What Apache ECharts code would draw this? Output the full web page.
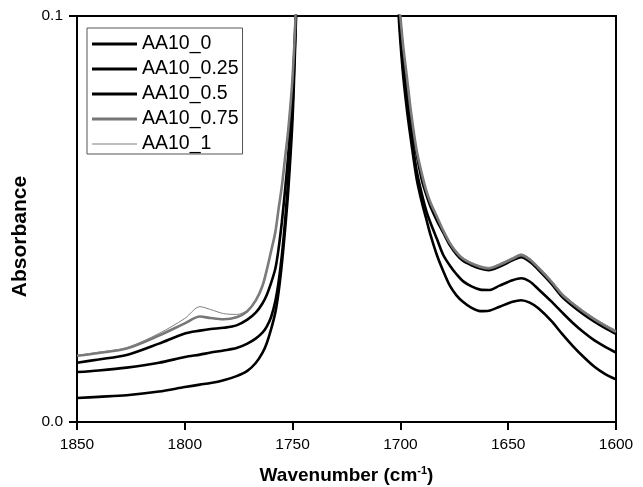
<!DOCTYPE html>
<html>
<head>
<meta charset="utf-8">
<script src="https://cdn.jsdelivr.net/npm/echarts@6/dist/echarts.min.js"></script>
<style>
html,body{margin:0;padding:0;background:#fff;}
#chart{width:643px;height:487px;}
</style>
</head>
<body>
<div id="chart"></div>
<script>
// Wavenumber grid (cm^-1)
const wavenumber = [1850, 1840, 1827, 1812, 1800, 1793, 1788, 1782, 1776, 1771, 1767, 1764, 1762, 1760, 1758, 1756.5, 1755, 1753.5, 1752, 1750, 1748.5, 1746, 1740, 1725, 1710, 1703, 1701, 1699, 1697, 1695, 1692.5, 1690, 1688, 1686, 1683, 1680, 1677, 1674, 1671, 1667, 1663, 1659, 1654, 1648, 1644, 1640, 1636, 1630, 1625, 1620, 1615, 1610, 1605, 1600];

const seriesNames = ['AA10_0', 'AA10_0.25', 'AA10_0.5', 'AA10_0.75', 'AA10_1'];

const aa10_0 = [0.0059, 0.0062, 0.0066, 0.0075, 0.0086, 0.0092, 0.0096, 0.0103, 0.0113, 0.0126, 0.0146, 0.0170, 0.0194, 0.0228, 0.0270, 0.0320, 0.0388, 0.0473, 0.0571, 0.075, 0.098, 0.14, 0.30, 0.60, 0.30, 0.13, 0.102, 0.087, 0.077, 0.069, 0.060, 0.054, 0.050, 0.046, 0.041, 0.037, 0.0335, 0.0312, 0.0296, 0.0281, 0.0273, 0.0274, 0.0284, 0.0296, 0.0300, 0.0294, 0.0280, 0.0249, 0.0217, 0.0187, 0.0160, 0.0136, 0.0118, 0.0105];

const aa10_025 = [0.0123, 0.0127, 0.0134, 0.0146, 0.0160, 0.0166, 0.0171, 0.0176, 0.0182, 0.0193, 0.0206, 0.0220, 0.0235, 0.0258, 0.0298, 0.0345, 0.0410, 0.0495, 0.060, 0.078, 0.100, 0.145, 0.31, 0.60, 0.31, 0.135, 0.104, 0.089, 0.079, 0.071, 0.062, 0.056, 0.052, 0.049, 0.045, 0.041, 0.0385, 0.0364, 0.0347, 0.0334, 0.0326, 0.0325, 0.0336, 0.0349, 0.0354, 0.0346, 0.0327, 0.0297, 0.0270, 0.0244, 0.0221, 0.0201, 0.0185, 0.0171];

const aa10_05 = [0.0146, 0.0154, 0.0165, 0.0193, 0.0218, 0.0225, 0.0229, 0.0232, 0.0238, 0.0252, 0.0270, 0.0292, 0.0313, 0.0342, 0.0378, 0.0427, 0.0492, 0.0571, 0.066, 0.082, 0.101, 0.15, 0.32, 0.60, 0.32, 0.14, 0.106, 0.092, 0.082, 0.073, 0.066, 0.0595, 0.056, 0.053, 0.0495, 0.0465, 0.0435, 0.0413, 0.0397, 0.0386, 0.0378, 0.0374, 0.0383, 0.0398, 0.0406, 0.0395, 0.0375, 0.0341, 0.0308, 0.0285, 0.0265, 0.0247, 0.0231, 0.0217];

const aa10_075 = [0.0163, 0.0170, 0.0181, 0.0213, 0.0243, 0.0260, 0.0256, 0.0253, 0.0258, 0.0273, 0.0300, 0.0335, 0.0374, 0.042, 0.0468, 0.0525, 0.058, 0.065, 0.072, 0.085, 0.102, 0.15, 0.32, 0.60, 0.32, 0.14, 0.107, 0.094, 0.085, 0.076, 0.067, 0.061, 0.057, 0.054, 0.0505, 0.047, 0.0440, 0.0418, 0.0402, 0.0390, 0.0382, 0.0378, 0.0387, 0.0402, 0.0411, 0.0400, 0.0380, 0.0346, 0.0314, 0.0291, 0.0271, 0.0253, 0.0237, 0.0222];

const aa10_1 = [0.0164, 0.0172, 0.0183, 0.0218, 0.0255, 0.0284, 0.0277, 0.0267, 0.0265, 0.0275, 0.0301, 0.0336, 0.0375, 0.042, 0.0468, 0.0525, 0.058, 0.065, 0.072, 0.085, 0.102, 0.15, 0.32, 0.60, 0.32, 0.14, 0.107, 0.094, 0.085, 0.076, 0.067, 0.061, 0.057, 0.054, 0.0506, 0.0472, 0.0443, 0.0421, 0.0405, 0.0393, 0.0385, 0.0381, 0.0390, 0.0405, 0.0414, 0.0403, 0.0383, 0.0349, 0.0317, 0.0294, 0.0274, 0.0256, 0.0240, 0.0226];

const xTicks = [1600, 1650, 1700, 1750, 1800, 1850];
const yTicks = [0.0, 0.1];

const valueSets = [aa10_0, aa10_025, aa10_05, aa10_075, aa10_1];
const lineColors = ['#000000', '#000000', '#000000', '#777777', '#808080'];
const lineWidths = [2.6, 2.6, 2.6, 2.6, 1];
const legendIcons = [
  'path://M0,0L45,0L45,3L0,3Z',
  'path://M0,0L45,0L45,3L0,3Z',
  'path://M0,0L45,0L45,3L0,3Z',
  'path://M0,0L45,0L45,3L0,3Z',
  'path://M0,0L45,0L45,1L0,1Z'
];

const FONT = 'Liberation Sans';

const chart = echarts.init(document.getElementById('chart'), null, {renderer: 'canvas'});

const series = seriesNames.map((name, k) => ({
  name: name,
  type: 'line',
  symbol: 'none',
  smooth: 0.3,
  clip: true,
  lineStyle: {color: lineColors[k], width: lineWidths[k]},
  itemStyle: {color: lineColors[k]},
  data: wavenumber.map((w, i) => [w, valueSets[k][i]])
}));

chart.setOption({
  animation: false,
  backgroundColor: '#ffffff',
  grid: {
    left: 77, right: 27, top: 16, bottom: 65,
    outerBoundsMode: 'none',
    containLabel: false,
    show: true, borderColor: '#000', borderWidth: 2, backgroundColor: 'transparent'
  },
  legend: {
    data: seriesNames.map((n, k) => ({name: n, icon: legendIcons[k]})),
    orient: 'vertical',
    left: 87, top: 28,
    padding: [6, 4, 0, 5],
    itemWidth: 45, itemHeight: 14, itemGap: 5,
    symbolKeepAspect: true,
    borderColor: '#555', borderWidth: 1,
    backgroundColor: '#fff',
    textStyle: {fontFamily: FONT, fontSize: 19.5, color: '#000'}
  },
  xAxis: {
    type: 'value',
    min: xTicks[0], max: xTicks[xTicks.length - 1], interval: 50,
    inverse: true,
    name: '{a|Wavenumber (cm}{s|-1}{a|)}',
    nameLocation: 'middle',
    nameGap: 43,
    nameTextStyle: {
      rich: {
        a: {fontFamily: FONT, fontSize: 19, fontWeight: 'bold', color: '#000'},
        s: {fontFamily: FONT, fontSize: 11, fontWeight: 'bold', color: '#000', padding: [0, 0, 10, 0]}
      }
    },
    axisLine: {show: true, lineStyle: {color: '#000', width: 2}},
    axisTick: {show: true, inside: false, length: 8, lineStyle: {color: '#000', width: 2}},
    axisLabel: {fontFamily: FONT, fontSize: 15.5, color: '#000', margin: 15, formatter: v => String(v)},
    splitLine: {show: false}
  },
  yAxis: {
    type: 'value',
    min: yTicks[0], max: yTicks[yTicks.length - 1], interval: 0.1,
    name: 'Absorbance',
    nameLocation: 'middle',
    nameGap: 43,
    nameTextStyle: {fontFamily: FONT, fontSize: 21, fontWeight: 'bold', color: '#000', padding: [0, 35, 0, 0]},
    axisLine: {show: true, lineStyle: {color: '#000', width: 2}},
    axisTick: {show: true, inside: false, length: 8, lineStyle: {color: '#000', width: 2}},
    axisLabel: {fontFamily: FONT, fontSize: 15.5, color: '#000', margin: 14, formatter: v => v.toFixed(1)},
    splitLine: {show: false}
  },
  series: series
});
</script>
</body>
</html>
